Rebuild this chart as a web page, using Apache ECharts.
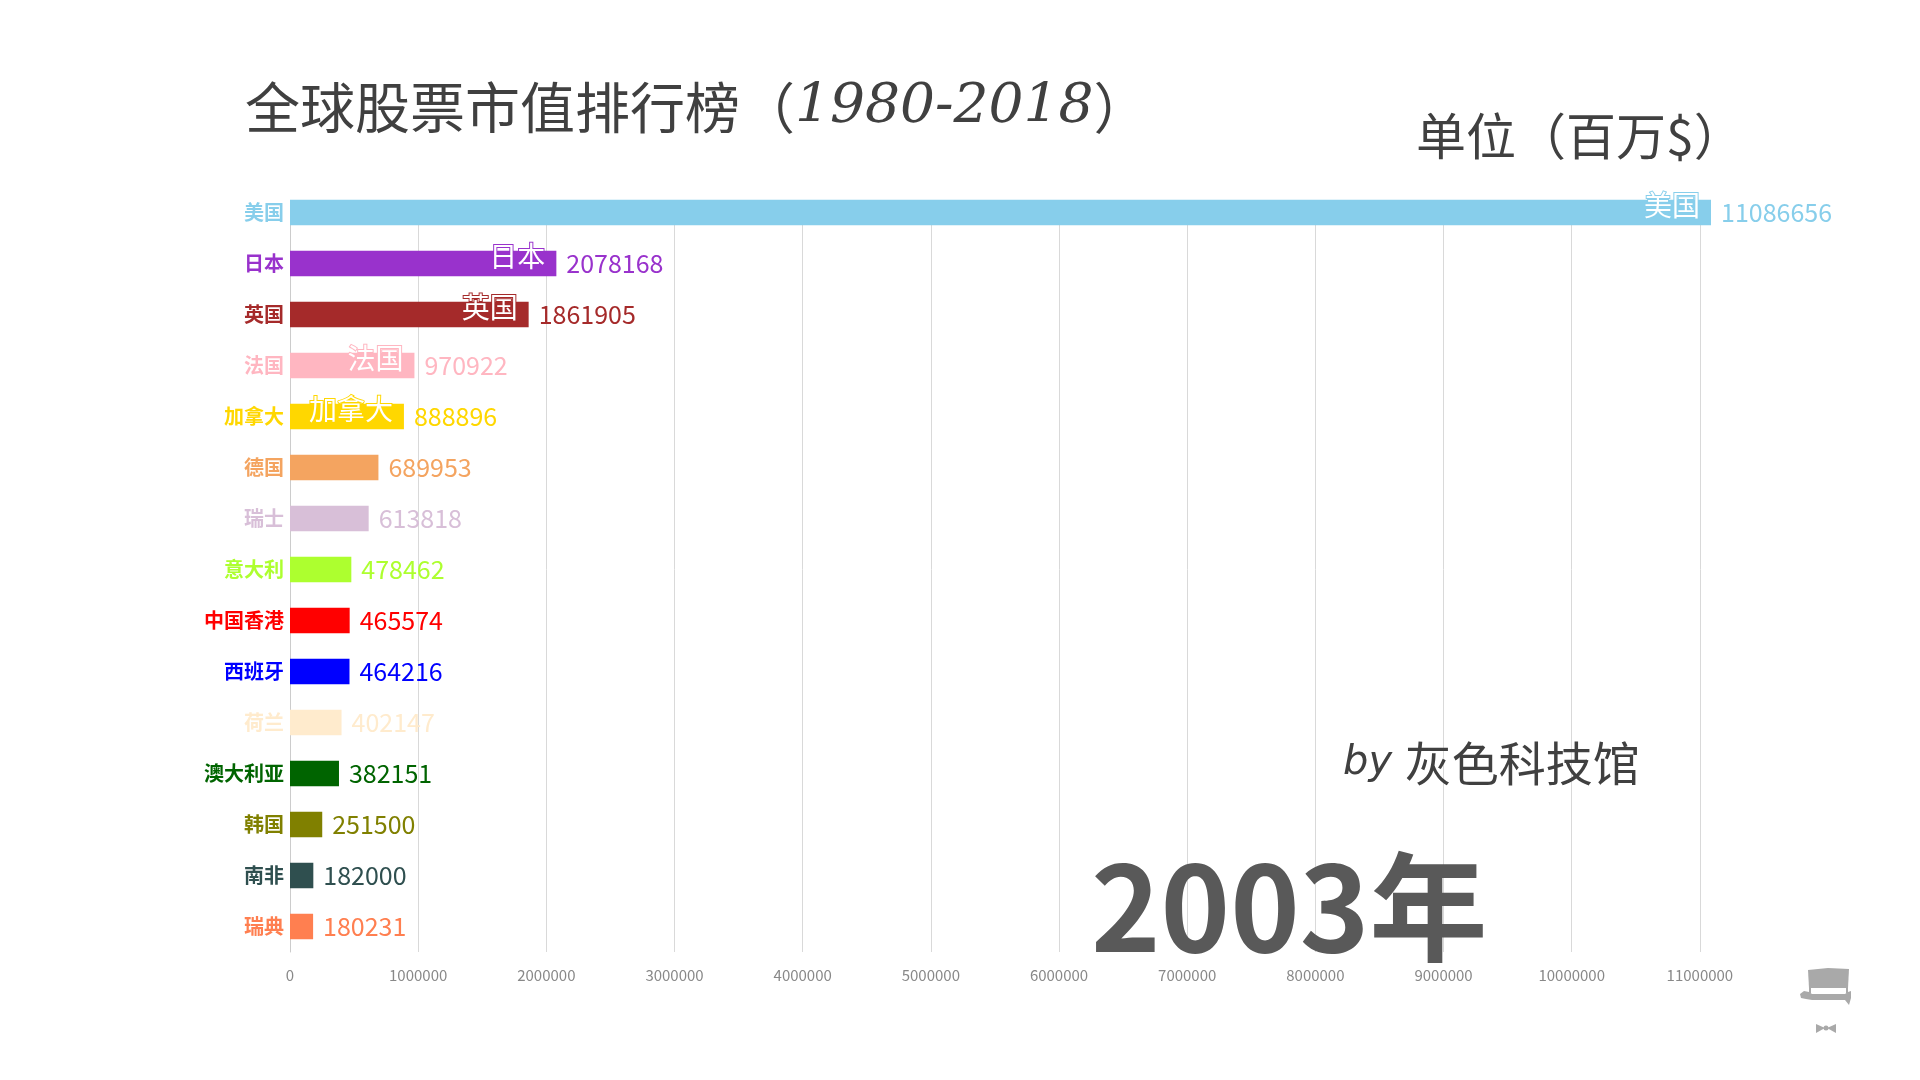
<!DOCTYPE html>
<html>
<head>
<meta charset="utf-8">
<script src="https://cdn.jsdelivr.net/npm/echarts@6/dist/echarts.min.js"></script>
<style>
html,body{margin:0;padding:0;background:#fff;}
#chart{width:1920px;height:1080px;}
</style>
</head>
<body>
<div id="chart"></div>
<script>
const countries = ['美国','日本','英国','法国','加拿大','德国','瑞士','意大利','中国香港','西班牙','荷兰','澳大利亚','韩国','南非','瑞典'];
const values = [11086656,2078168,1861905,970922,888896,689953,613818,478462,465574,464216,402147,382151,251500,182000,180231];
const colors = ['#87CEEB','#9932CC','#A52A2A','#FFB6C1','#FFD700','#F4A460','#D8BFD8','#ADFF2F','#FF0000','#0000FF','#FFEBCD','#006400','#808000','#2F4F4F','#FF7F50'];
const xTicks = [0,1000000,2000000,3000000,4000000,5000000,6000000,7000000,8000000,9000000,10000000,11000000];
const yearText = '2003年';
const insideNameCount = 5;

const FONT = '"Noto Sans CJK SC", "Noto Sans", sans-serif';

const barData = values.map((v, i) => ({
  value: v,
  itemStyle: { color: colors[i] },
  label: { color: colors[i] }
}));
const nameData = values.map((v, i) => ({
  value: v,
  label: {
    show: i < insideNameCount,
    textBorderColor: colors[i]
  }
}));

const chart = echarts.init(document.getElementById('chart'), null, {renderer: 'canvas'});
chart.setOption({
  backgroundColor: '#ffffff',
  animation: false,
  grid: { left: 290, top: 187, width: 1421, height: 765, containLabel: false },
  xAxis: {
    type: 'value',
    min: 0,
    max: 'dataMax',
    interval: 1000000,
    axisLine: { show: false },
    axisTick: { show: false },
    axisLabel: {
      color: '#888888', fontSize: 15, fontFamily: FONT, margin: 16,
      showMaxLabel: false,
      formatter: v => xTicks.includes(v) ? String(v) : ''
    },
    splitLine: { show: true, showMinLine: false, showMaxLine: false, lineStyle: { color: '#d9d9d9', width: 1 } }
  },
  yAxis: {
    type: 'category',
    inverse: true,
    data: countries,
    axisLine: { show: true, lineStyle: { color: '#cccccc', width: 1 } },
    axisTick: { show: false },
    axisLabel: {
      fontSize: 20, fontWeight: 'bold', fontFamily: FONT, margin: 6,
      color: (val, idx) => colors[idx]
    }
  },
  series: [
    {
      type: 'bar',
      data: barData,
      barWidth: '50%',
      z: 2,
      label: {
        show: true, position: 'right', distance: 10,
        fontSize: 25, fontFamily: FONT,
        formatter: p => String(p.value)
      }
    },
    {
      type: 'bar',
      data: nameData,
      barWidth: '50%',
      barGap: '-100%',
      z: 3,
      itemStyle: { color: 'rgba(0,0,0,0)' },
      silent: true,
      label: {
        show: false, position: 'insideRight', distance: 11,
        offset: [0, -7],
        fontSize: 28, fontFamily: FONT, color: '#ffffff',
        textBorderWidth: 2,
        formatter: p => p.name
      }
    }
  ],
  graphic: [
    {
      type: 'rect', z: 1, silent: true,
      shape: { x: 286, y: 180, width: 1430, height: 20 },
      style: { fill: '#ffffff' }
    },
    {
      type: 'text', left: 245, top: 80, z: 10,
      style: {
        text: '{a|全球股票市值排行榜（}{b|1980-2018}{a|）}',
        rich: {
          a: { fontSize: 55, fontFamily: FONT, fill: '#404040' },
          b: { fontSize: 55, fontFamily: '"DejaVu Serif", serif', fontStyle: 'italic', fill: '#404040' }
        }
      }
    },
    {
      type: 'text', left: 1416, top: 111, z: 10,
      style: { text: '单位（百万$）', fontSize: 50, fontFamily: FONT, fill: '#404040' }
    },
    {
      type: 'text', left: 1343, top: 740, z: 10,
      style: {
        text: '{a|by }{b|灰色科技馆}',
        rich: {
          a: { fontSize: 40, fontFamily: '"DejaVu Sans", sans-serif', fontWeight: 200, fontStyle: 'italic', fill: '#404040' },
          b: { fontSize: 47, fontFamily: FONT, fill: '#404040' }
        }
      }
    },
    {
      type: 'text', left: 1091, top: 848, z: 10,
      style: { text: yearText, fontSize: 118, fontWeight: 'bold', fontFamily: FONT, fill: '#595959' }
    },
    {
      type: 'group', left: 1800, top: 968, z: 10,
      children: [
        { type: 'polygon', shape: { points: [[10,2],[30,0],[51,1],[50,20],[11,20]] }, style: { fill: '#a9a9a9' } },
        { type: 'polygon', shape: { points: [[11,20],[13,20],[13,25],[11,25]] }, style: { fill: '#a9a9a9' } },
        { type: 'polygon', shape: { points: [[48,20],[50,20],[50,25],[48,25]] }, style: { fill: '#a9a9a9' } },
        { type: 'polygon', shape: { points: [[2,26],[6,23],[11,24],[14,26],[47,26],[50,24],[53,23],[53,30],[51,37],[47,32],[14,32],[8,31],[3,30]] }, style: { fill: '#a9a9a9' } },
        { type: 'polygon', shape: { points: [[18,56],[27,60],[18,65]] }, style: { fill: '#a9a9a9' } },
        { type: 'polygon', shape: { points: [[38,56],[29,60],[38,65]] }, style: { fill: '#a9a9a9' } },
        { type: 'circle', shape: { cx: 28, cy: 60, r: 2.5 }, style: { fill: '#a9a9a9' } }
      ]
    }
  ]
});
</script>
</body>
</html>
